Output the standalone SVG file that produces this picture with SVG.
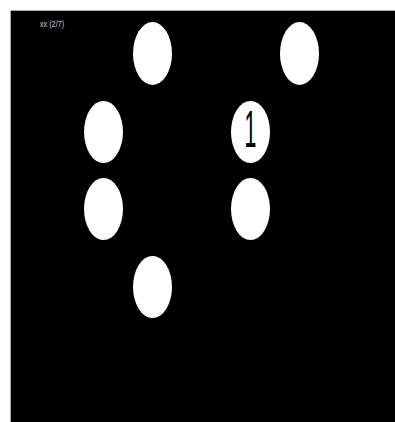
<svg xmlns="http://www.w3.org/2000/svg" width="395" height="422" viewBox="0 0 395 422">
<style>
.node{fill:#ffffff;}
.lbl{font-family:"Liberation Sans",Arial,sans-serif;}
</style>
<rect x="0" y="0" width="395" height="422" fill="#ffffff"/>
<rect x="10.5" y="10.5" width="390" height="420" fill="#000000" stroke="#aaaaaa" stroke-width="1"/>
<text class="lbl" font-size="8.5" fill="#cccccc" transform="translate(40,27) scale(0.85,1)">xx (2/7)</text>
<g id="connectors"/>
<g id="n1"><ellipse class="node" cx="152.5" cy="53.5" rx="19.5" ry="31.5"/></g>
<g id="n2"><ellipse class="node" cx="299.5" cy="53.5" rx="19.5" ry="31.5"/></g>
<g id="n3"><ellipse class="node" cx="103.5" cy="132" rx="19.5" ry="31"/></g>
<g id="n4"><ellipse class="node" cx="250.5" cy="132" rx="19.5" ry="31"/>
<text class="lbl" font-size="51" fill="#000000" text-anchor="middle" transform="translate(250.5,147) scale(0.42,1)">1</text></g>
<g id="n5"><ellipse class="node" cx="103.5" cy="209" rx="19.5" ry="31"/></g>
<g id="n6"><ellipse class="node" cx="250.5" cy="209" rx="19.5" ry="31"/></g>
<g id="n7"><ellipse class="node" cx="152.5" cy="287" rx="19.5" ry="31"/></g>
</svg>
